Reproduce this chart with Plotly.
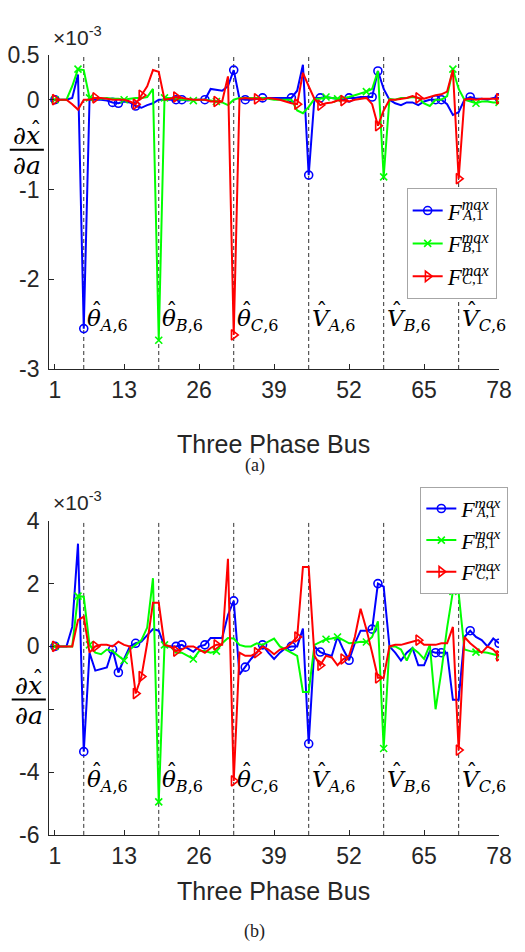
import plotly.graph_objects as go

# ---------------- data (values in units of 1e-3) ----------------
bus = list(range(1, 79))

top_A = [0, 0, 0, 0.02, 0.28, -2.55, 0.0, 0.0, 0.0, -0.01,
         -0.03, -0.04, -0.02, -0.03, -0.07, -0.09, -0.06, -0.04, 0.0, 0.0,
         0.0, 0.0, 0.0, -0.01, 0.0, 0.0, 0.0, 0.12, 0.11, 0.10,
         0.15, 0.33, 0.01, 0.0, 0.0, 0.01, 0.02, 0.02, 0.02, 0.02,
         0.02, 0.02, 0.10, 0.39, -0.84, 0.02, 0.02, 0.03, 0.02, 0.01,
         0.0, 0.02, 0.02, 0.03, 0.03, 0.03, 0.32, 0.12, 0.0, -0.04,
         -0.06, -0.03, -0.03, -0.06, -0.02, 0.0, 0.0, 0.0, -0.05, -0.17,
         -0.14, 0.0, 0.03, 0.01, 0.01, 0.0, 0.02, 0.02]
top_B = [0, 0, 0.0, 0.15, 0.34, 0.33, 0.02, 0.02, 0.01, 0.02,
         0.01, 0.01, 0.0, 0.01, 0.02, 0.02, 0.03, 0.12, -2.68, 0.02,
         0.02, 0.01, 0.0, 0.0, -0.01, 0.0, 0.0, -0.01, -0.02, -0.03,
         -0.06, 0.0, 0.02, 0.02, 0.02, 0.02, 0.02, 0.01, 0.0, 0.0,
         0.0, 0.0, -0.12, -0.15, -0.08, 0.01, 0.01, 0.03, 0.02, 0.01,
         0.02, 0.03, 0.05, 0.07, 0.09, 0.12, 0.32, -0.86, 0.01, 0.0,
         0.02, 0.02, 0.03, 0.02, -0.04, -0.07, 0.0, 0.0, 0.04, 0.34,
         0.12, 0.0, -0.02, -0.04, -0.02, -0.02, -0.03, -0.03]
top_C = [0, 0, 0, -0.05, -0.11, 0.0, 0.0, 0.02, 0.02, 0.01,
         0.0, 0.0, 0.0, -0.02, -0.05, 0.05, 0.15, 0.33, 0.31, 0.0,
         0.01, 0.03, 0.02, 0.01, 0.0, 0.0, 0.0, -0.02, -0.02, -0.02,
         0.26, -2.62, 0.01, 0.02, 0.01, 0.01, 0.0, 0.02, 0.01, 0.0,
         -0.02, -0.04, -0.05, 0.30, 0.15, 0.01, -0.06, -0.04, -0.03, -0.01,
         -0.01, -0.02, 0.0, 0.01, 0.02, -0.05, -0.29, -0.12, 0.0, 0.0,
         0.01, 0.02, 0.04, 0.02, 0.01, 0.03, 0.05, 0.06, 0.09, 0.33,
         -0.88, 0.0, 0.01, 0.0, 0.01, 0.01, 0.01, 0.01]

bot_A = [0, 0, 0, 0.62, 3.27, -3.35, -0.2, -0.77, -0.72, -0.67,
         -0.1, -0.83, -0.4, 0.0, 0.1, 0.15, 0.36, 0.55, 0.5, 0.0,
         0.0, 0.0, 0.05, -0.05, -0.17, 0.0, 0.05, 0.27, 0.27, 0.27,
         1.0, 1.45, -0.9, -0.66, -0.4, -0.2, 0.05, -0.2, -0.4, -0.2,
         -0.05, 0.0, 0.0, 0.57, -3.1, 0.0, -0.18, -0.25, -0.3, 0.31,
         -0.1, -0.44, 0.1, 0.5, 0.5, 0.55, 2.0, 1.9, 0.0, -0.2,
         -0.45, -0.2, -0.05, -0.6, -0.6, -0.15, -0.2, -0.2, -0.2, -1.7,
         -1.7, 0.3, 0.5, 0.3, 0.2, 0.0, 0.25, 0.1]
bot_B = [0, 0, 0, 0.0, 1.6, 1.58, 0.05, -0.2, -0.25, -0.1,
         -0.15, -0.3, -0.45, -0.1, 0.05, 0.2, 0.6, 2.17, -4.95, 0.05,
         0.0, -0.2, -0.2, -0.3, -0.4, -0.15, -0.15, -0.2, -0.15, 0.1,
         0.27, 0.25, 0.05, 0.0, 0.0, 0.1, 0.05, 0.15, 0.25, 0.0,
         -0.1, -0.2, -0.3, -1.45, -1.45, 0.05, 0.15, 0.23, 0.25, 0.3,
         0.2, 0.1, 0.12, 0.15, 0.14, 0.3, 0.8, -3.25, 0.0, 0.0,
         -0.1, -0.45, -0.05, -0.2, -0.4, 0.05, -2.0, -0.8, 0.6, 1.75,
         1.7, -0.1, -0.15, -0.18, -0.18, -0.2, -0.25, -0.3]
bot_C = [0, 0, 0, 0.0, 0.84, 0.95, -0.2, 0.0, 0.05, 0.05,
         0.0, 0.15, 0.05, 0.0, -1.5, -0.96, 0.1, 1.39, 1.39, 0.05,
         0.0, -0.15, -0.1, 0.0, 0.0, -0.1, -0.2, -0.05, 0.05, 0.05,
         2.79, -4.28, -0.2, -0.3, -0.3, -0.2, 0.0, -0.1, -0.25, -0.1,
         -0.05, 0.1, 0.3, 2.53, 2.53, -0.3, -0.6, -0.3, -0.35, -0.6,
         -0.4, -0.3, 0.3, 1.2, 0.55, -0.2, -1.0, -1.0, 0.0, 0.05,
         0.05, 0.1, 0.15, 0.2, 0.05, 0.05, 0.05, 0.1, 0.1, 0.62,
         -3.3, 0.3, 0.1, -0.05, -0.2, 0.0, -0.1, -0.3]

# buses that carry a marker symbol
marks_A = [1, 6, 11, 12, 15, 22, 23, 27, 32, 34, 37, 42, 45, 47, 52, 56, 57, 67, 68, 73, 78]
marks_B = [1, 5, 7, 13, 19, 20, 25, 29, 48, 50, 55, 58, 70, 74, 78]
marks_C = [1, 8, 15, 16, 22, 29, 32, 36, 43, 47, 51, 57, 64, 71, 78]

# state positions highlighted with dashed lines
state_bus = [6, 19, 32, 45, 58, 71]
state_sym = ["θ", "θ", "θ", "V", "V", "V"]
state_sub = ["A", "B", "C", "A", "B", "C"]

x_ticks = [1, 13, 26, 39, 52, 65, 78]
top_yticks = [-3, -2, -1, 0, 0.5]
top_yticktext = ["-3", "-2", "-1", "0", "0.5"]
bot_yticks = [-6, -4, -2, 0, 2, 4]
bot_yticktext = ["-6", "-4", "", "0", "2", "4"]   # "-2" is hidden behind the y label

series_names = ["A", "B", "C"]
colors = ["#0000ff", "#00ff00", "#ff0000"]
symbols = ["circle-open", "x-thin-open", "triangle-right-open"]
msizes = [8, 7, 9]

# ---------------- figure ----------------
W, H = 525, 952
def px(xp):
    return xp / W
def py(yp):
    return 1 - yp / H

fig = go.Figure()
GRAY = "#262626"
SANS = "Liberation Sans, Arial, sans-serif"
SERIF = "Liberation Serif, Times New Roman, serif"
MATH = "DejaVu Serif, serif"

panels = [
    dict(xa="x", ya="y", data=[top_A, top_B, top_C], legend="legend"),
    dict(xa="x2", ya="y2", data=[bot_A, bot_B, bot_C], legend="legend2"),
]
marks = [marks_A, marks_B, marks_C]

for p in panels:
    for k in range(3):
        vals = p["data"][k]
        fig.add_trace(go.Scatter(x=bus, y=vals, mode="lines", xaxis=p["xa"], yaxis=p["ya"],
                                 line=dict(color=colors[k], width=2), showlegend=False,
                                 hoverinfo="skip"))
        mx = marks[k]
        my = [vals[b - 1] for b in mx]
        fig.add_trace(go.Scatter(x=mx, y=my, mode="markers", xaxis=p["xa"], yaxis=p["ya"],
                                 marker=dict(symbol=symbols[k], size=msizes[k], color=colors[k],
                                             line=dict(color=colors[k], width=1.6)),
                                 showlegend=False, hoverinfo="skip"))
    for k in range(3):
        fig.add_trace(go.Scatter(x=[None], y=[None], mode="lines+markers", xaxis=p["xa"], yaxis=p["ya"],
                                 line=dict(color=colors[k], width=2),
                                 marker=dict(symbol=symbols[k], size=msizes[k], color=colors[k],
                                             line=dict(color=colors[k], width=1.6)),
                                 name="<i>F</i><sup><i>max</i></sup>", legend=p["legend"]))

xdom = [px(50.4), px(511.7)]
axis_common = dict(showline=True, linecolor=GRAY, linewidth=1, ticks="inside", ticklen=5,
                   tickcolor=GRAY, tickwidth=1, showgrid=False, zeroline=False,
                   tickfont=dict(family=SANS, size=23, color=GRAY))

LEG_TOP = (180, 487)
LEG_LEFT = (417, 431)
LEG_FS = (23, 22)

fig.update_layout(
    width=W, height=H, margin=dict(l=0, r=0, t=0, b=0),
    paper_bgcolor="white", plot_bgcolor="white",
    xaxis=dict(domain=xdom, range=[0, 78], tickvals=x_ticks, anchor="y", **axis_common),
    yaxis=dict(domain=[py(366), py(43)], range=[-3, 0.5], tickvals=top_yticks,
               ticktext=top_yticktext, anchor="x", ticklabelstandoff=4, **axis_common),
    xaxis2=dict(domain=xdom, range=[0, 78], tickvals=x_ticks, anchor="y2", **axis_common),
    yaxis2=dict(domain=[py(845), py(522)], range=[-6, 4], tickvals=bot_yticks,
                ticktext=bot_yticktext, anchor="x2", ticklabelstandoff=4, **axis_common),
    legend=dict(x=px(LEG_LEFT[0]), y=py(LEG_TOP[0]), xanchor="left", yanchor="top",
                bgcolor="white", bordercolor="#a6a6a6", borderwidth=1,
                font=dict(family=SERIF, size=LEG_FS[0], color="black"), tracegroupgap=0),
    legend2=dict(x=px(LEG_LEFT[1]), y=py(LEG_TOP[1]), xanchor="left", yanchor="top",
                 bgcolor="white", bordercolor="#a6a6a6", borderwidth=1,
                 font=dict(family=SERIF, size=LEG_FS[1], color="black"), tracegroupgap=0),
    showlegend=True,
)

# subscripts of the legend entries
for li in range(2):
    row_h = LEG_FS[li] * 1.3 + 3
    for k, nm in enumerate(series_names):
        yc = LEG_TOP[li] + 1 + row_h * (k + 0.5) + 10
        fig.add_annotation(x=px(LEG_LEFT[li] + 55), y=py(yc), xref="paper", yref="paper",
                           xanchor="left", yanchor="middle", showarrow=False,
                           text=f"<i>{nm}</i>,1",
                           font=dict(family=SERIF, size=int(LEG_FS[li] * 0.68), color="black"))

# dashed state lines and their labels
label_y = {"x": -2.45, "x2": -4.28}
LBL_FS = 23
for p in panels:
    yref = p["ya"]
    for b, s, sub in zip(state_bus, state_sym, state_sub):
        fig.add_shape(type="line", xref=p["xa"], yref=yref + " domain", x0=b, x1=b, y0=0, y1=1,
                      line=dict(color="#333333", width=1, dash="4px,3px"), layer="below")
        fig.add_annotation(x=b, y=label_y[p["xa"]], xref=p["xa"], yref=yref, xanchor="left",
                           yanchor="middle", xshift=1, showarrow=False,
                           text=f"<i>{s}</i><sub><i>{sub}</i>,6</sub>",
                           font=dict(family=MATH, size=LBL_FS, color="black"))
        fig.add_annotation(x=b, y=label_y[p["xa"]], xref=p["xa"], yref=yref, xanchor="center",
                           yanchor="middle", xshift=13, yshift=9, showarrow=False,
                           text="ˆ", font=dict(family=MATH, size=LBL_FS, color="black"))

# exponent labels
for ytop in (39, 517):
    fig.add_annotation(x=px(52), y=py(ytop), xref="paper", yref="paper", xanchor="left",
                       yanchor="bottom", showarrow=False, text="×10<sup>-3</sup>",
                       font=dict(family=SANS, size=21, color=GRAY))

# y-axis fraction labels
for (ynum, ybar, yden, x0, x1) in [(126, 140.5, 157, 10, 45), (691, 705.7, 722, 12, 47)]:
    xc = (x0 + x1) / 2
    fig.add_annotation(x=px(xc), y=py(ynum), xref="paper", yref="paper", showarrow=False,
                       xanchor="center", yanchor="middle",
                       text="<i>∂x</i>", font=dict(family=MATH, size=25, color="black"))
    fig.add_annotation(x=px(xc + 9), y=py(ynum - 6), xref="paper", yref="paper", showarrow=False,
                       xanchor="center", yanchor="middle",
                       text="ˆ", font=dict(family=MATH, size=23, color="black"))
    fig.add_annotation(x=px(xc), y=py(yden), xref="paper", yref="paper", showarrow=False,
                       xanchor="center", yanchor="middle",
                       text="<i>∂a</i>", font=dict(family=MATH, size=25, color="black"))
    fig.add_shape(type="line", xref="paper", yref="paper", x0=px(x0), x1=px(x1),
                  y0=py(ybar), y1=py(ybar), line=dict(color="black", width=2))

# x-axis titles and captions
for yt in (443, 903):
    fig.add_annotation(x=px(280), y=py(yt), xref="paper", yref="paper", showarrow=False,
                       xanchor="center", yanchor="middle",
                       text="Three Phase Bus", font=dict(family=SANS, size=25, color=GRAY))
for yc, cap in ((465, "(a)"), (944, "(b)")):
    fig.add_annotation(x=px(261), y=py(yc), xref="paper", yref="paper", showarrow=False,
                       xanchor="center", yanchor="middle",
                       text=cap, font=dict(family=SERIF, size=18, color="#222222"))

post = ("document.documentElement.style.overflow='hidden';"
        "document.body.style.margin='0';document.body.style.overflow='hidden';")
fig.write_html("out.html", config={"displayModeBar": False}, post_script=post)
